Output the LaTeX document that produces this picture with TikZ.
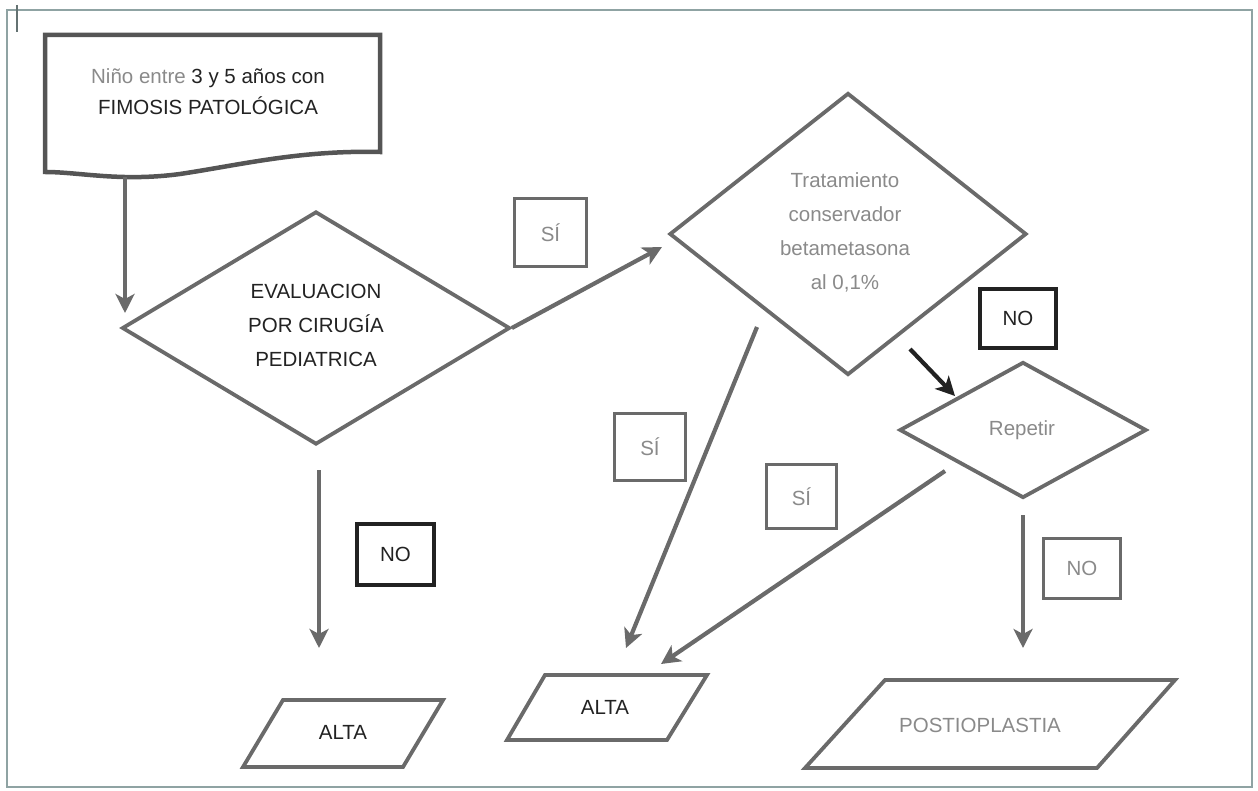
\documentclass[tikz,border=0pt]{standalone}
\usepackage{fontspec}
\setmainfont{Liberation Sans}
\usetikzlibrary{shapes.geometric,arrows.meta}
\definecolor{ln}{HTML}{6A6A6A}
\definecolor{dk}{HTML}{222222}
\definecolor{lt}{HTML}{8A8A8A}
\definecolor{frm}{HTML}{8FA3A3}
\begin{document}
\begin{tikzpicture}[x=1pt,y=-1pt,
  shp/.style={draw=ln, line width=3.8pt, line join=miter},
  dia/.style={shp, diamond, inner sep=0pt},
  arr/.style={draw=ln, line width=4.2pt, -{Stealth[length=19pt,width=19pt,inset=5pt]}},
  txt/.style={font=\fontsize{20.5}{34}\selectfont, align=center, inner sep=0pt},
  labg/.style={draw=ln, line width=3.8pt, text=lt, font=\fontsize{20.5}{24}\selectfont, inner sep=0pt},
  labd/.style={draw=dk, line width=4.5pt, text=dk, font=\fontsize{20.5}{24}\selectfont, inner sep=0pt}
]
\useasboundingbox (0,0) rectangle (1258,791);
% outer frame
\draw[frm, line width=2pt] (7,10) rectangle (1252,787);
\draw[frm!70!black, line width=1.2pt] (17,5) -- (17,32);

% document shape
\draw[draw=ln!80!black, line width=4.5pt, line join=miter]
  (45,35) -- (380,35) -- (380,152)
  .. controls (300,150) and (240,165) .. (180,174)
  .. controls (120,182) and (80,172) .. (45,172) -- cycle;
\node[txt, text=dk] (start) at (208,92) {{\color{lt}Niño entre} 3 y 5 años con\\[-3pt]FIMOSIS PATOLÓGICA};
\coordinate (startout) at (125,177);

% decision 1
\node[dia, minimum width=388pt, minimum height=233pt] (eval) at (316,328) {};
\node[txt, text=dk] (evaltxt) at (316,325) {EVALUACION\\POR CIRUGÍA\\PEDIATRICA};

% decision 2
\node[dia, minimum width=357pt, minimum height=282pt] (trat) at (848,234) {};
\node[txt, text=lt] (trattxt) at (845,232) {Tratamiento\\conservador\\betametasona\\al 0,1\%};

% decision 3
\node[dia, minimum width=247pt, minimum height=136pt] (rep) at (1023,430) {};
\node[txt, text=lt] (reptxt) at (1022,430) {Repetir};

% outputs
\draw[shp] (283,700) -- (443,700) -- (403,767) -- (243,767) -- cycle;
\node[txt, text=dk] (alta1) at (343,732) {ALTA};
\draw[shp] (545,675) -- (707,675) -- (667,740) -- (507,740) -- cycle;
\node[txt, text=dk] (alta2) at (605,707) {ALTA};
\draw[shp] (885,680) -- (1175,680) -- (1097,768) -- (805,768) -- cycle;
\node[txt, text=lt] (post) at (980,725) {POSTIOPLASTIA};

% free ends of connectors
\coordinate (a1) at (125,313);
\coordinate (a2) at (662,247);
\coordinate (a3s) at (319,470);
\coordinate (a3) at (319,648);
\coordinate (a4s) at (757,327);
\coordinate (a4) at (626,648);
\coordinate (a5s) at (910,349);
\coordinate (a5) at (955,396);
\coordinate (a6s) at (945,471);
\coordinate (a6) at (661,664);
\coordinate (a7s) at (1023,515);
\coordinate (a7) at (1023,648);

% connectors
\draw[arr] (startout) -- (a1);
\draw[arr] (eval.east) -- (a2);
\draw[arr] (a3s) -- (a3);
\draw[arr] (a4s) -- (a4);
\draw[arr, draw=dk] (a5s) -- (a5);
\draw[arr] (a6s) -- (a6);
\draw[arr] (a7s) -- (a7);

% labels
\node[labg, minimum width=72pt, minimum height=68pt] (si1) at (550.5,232.5) {SÍ};
\node[labg, minimum width=71pt, minimum height=67pt] (si2) at (650,447) {SÍ};
\node[labg, minimum width=70pt, minimum height=64pt] (si3) at (801.5,496.5) {SÍ};
\node[labd, minimum width=77pt, minimum height=61pt] (no1) at (395.5,554.5) {NO};
\node[labd, minimum width=76pt, minimum height=59pt] (no2) at (1018,318.5) {NO};
\node[labg, minimum width=77pt, minimum height=60pt] (no3) at (1082,568.5) {NO};
\end{tikzpicture}
\end{document}
